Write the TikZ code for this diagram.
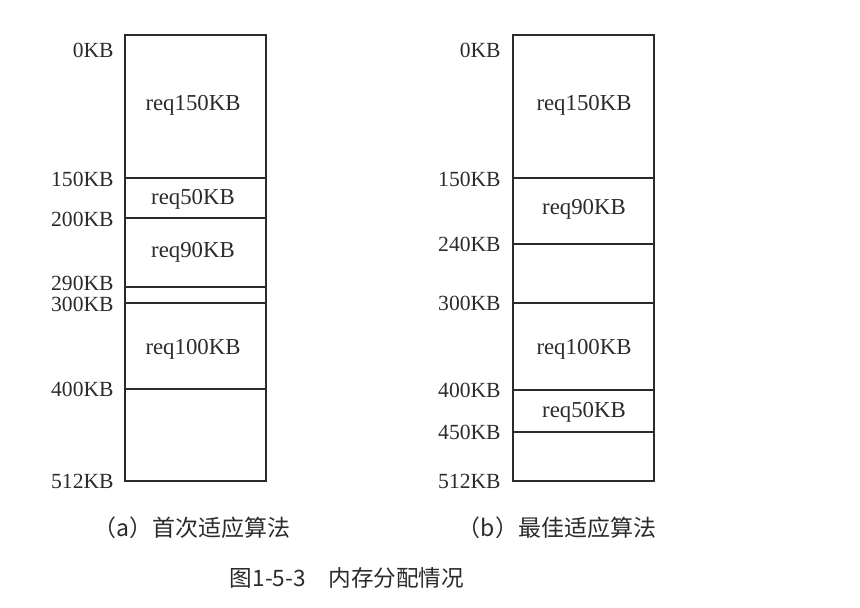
\documentclass[tikz,border=0pt]{standalone}
\usepackage{fontspec}
\setmainfont{Liberation Serif}
\newfontfamily\cjk{Noto Sans CJK SC}
\usetikzlibrary{positioning}
\definecolor{ink}{HTML}{2B2B2B}
\tikzset{mem/.style={draw=ink,line width=0.75pt},addr/.style={anchor=east,inner sep=0pt,text=ink,font=\fontsize{10.8}{12}\selectfont,text height=7.2pt,text depth=0pt},req/.style={inner sep=0pt,text=ink,font=\fontsize{11.4}{12}\selectfont,text height=7.6pt,text depth=0pt},caption/.style={inner sep=0pt,text=ink,font=\cjk\fontsize{11.5}{12}\selectfont}}

\begin{document}
\begin{tikzpicture}[x=0.5pt,y=-0.5pt]
\useasboundingbox (0,0) rectangle (860,608);
% (a) first fit: memory column and partition lines.
\draw[mem] (125,35) rectangle (266,481);
\foreach \y in {178,218,287,303,389}{
  \draw[mem] (125,\y)--(266,\y);
}
\foreach \y/\lab [count=\i] in {50/0KB,179/150KB,219/200KB,283/290KB,304/300KB,389/400KB,481/512KB}{
  \node[addr] (addrA\i) at (114,\y) {\lab};
}
\node[req] (reqA1) at (193,103) {req150KB};
\node[req] (reqA2) at (193,197) {req50KB};
\node[req] (reqA3) at (193,250) {req90KB};
\node[req] (reqA4) at (193,347) {req100KB};
% (b) best fit: same column, other partitions.
\draw[mem] (513,35) rectangle (654,481);
\foreach \y in {178,244,303,390,432}{
  \draw[mem] (513,\y)--(654,\y);
}
\foreach \y/\lab [count=\i] in {50/0KB,179/150KB,244/240KB,303/300KB,390/400KB,432/450KB,481/512KB}{
  \node[addr] (addrB\i) at (501,\y) {\lab};
}
\node[req] (reqB1) at (584,103) {req150KB};
\node[req] (reqB2) at (584,207) {req90KB};
\node[req] (reqB3) at (584,347) {req100KB};
\node[req] (reqB4) at (584,410) {req50KB};
% Captions.
\node[caption] (capA) at (192,528) {（a）首次适应算法};
\node[caption] (capB) at (557,528) {（b）最佳适应算法};
\node[caption,font=\cjk\fontsize{11.3}{12}\selectfont] (capFig) at (347,578) {图1-5-3\quad 内存分配情况};
\end{tikzpicture}
\end{document}
